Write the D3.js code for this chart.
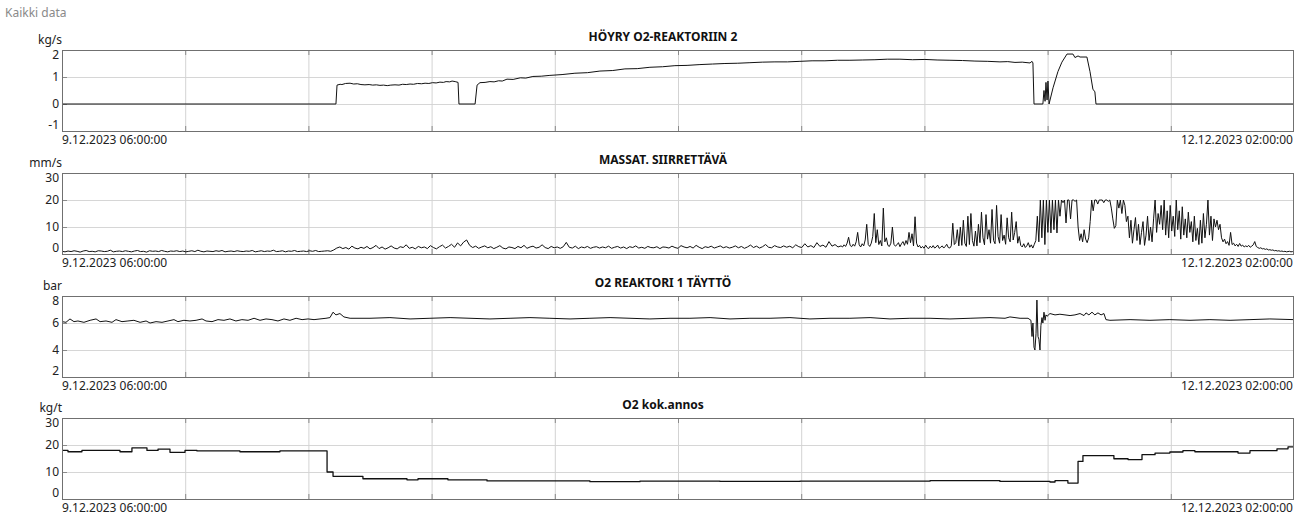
<!DOCTYPE html>
<html>
<head>
<meta charset="utf-8">
<script src="https://cdn.jsdelivr.net/npm/d3@7"></script>
<style>
  html, body { margin: 0; padding: 0; background: #fff; }
  svg { display: block; font-family: "Noto Sans", "Open Sans", sans-serif; }
</style>
</head>
<body>
<svg id="chart" width="1307" height="520"></svg>
<script>
// Time window of the trend view
const startTime = new Date(2023, 11, 9, 6, 0, 0);
const endTime = new Date(2023, 11, 12, 2, 0, 0);
const startLabel = "9.12.2023 06:00:00";
const endLabel = "12.12.2023 02:00:00";
const pageTitle = "Kaikki data";

const panelTitles = ["HÖYRY O2-REAKTORIIN 2", "MASSAT. SIIRRETTÄVÄ", "O2 REAKTORI 1 TÄYTTÖ", "O2 kok.annos"];
const panelUnits = ["kg/s", "mm/s", "bar", "kg/t"];

const steamTicks = [-1, 0, 1, 2];
const vibrationTicks = [0, 10, 20, 30];
const pressureTicks = [2, 4, 6, 8];
const dosageTicks = [0, 10, 20, 30];

// Steam flow to O2 reactor 2: [hours from start, kg/s]
const steamFlow = [
  [0, 0], [15.12, 0], [15.18, 0.70], [15.35, 0.73], [15.45, 0.72], [15.65, 0.76], [15.90, 0.77],
  [16.10, 0.74], [16.30, 0.75], [16.50, 0.72], [16.72, 0.71], [16.95, 0.72], [17.15, 0.70],
  [17.35, 0.71], [17.55, 0.69], [17.75, 0.70], [17.95, 0.68], [18.15, 0.70], [18.38, 0.71],
  [18.60, 0.70], [18.80, 0.73], [19.00, 0.72], [19.21, 0.74], [19.40, 0.73], [19.62, 0.76],
  [19.85, 0.75], [20.04, 0.77], [20.25, 0.76], [20.45, 0.79], [20.65, 0.78], [20.86, 0.81],
  [21.05, 0.80], [21.20, 0.83], [21.40, 0.82], [21.53, 0.85], [21.70, 0.83], [21.86, 0.80],
  [21.91, 0], [22.80, 0], [22.91, 0.70], [23.07, 0.79], [23.35, 0.80], [23.62, 0.83],
  [23.85, 0.82], [24.10, 0.86], [24.30, 0.85], [24.56, 0.92], [24.90, 0.91], [25.30, 0.97],
  [25.60, 0.96], [25.99, 1.02], [26.45, 1.03], [26.93, 1.06], [27.60, 1.09], [28.31, 1.14],
  [29.00, 1.16], [29.69, 1.22], [30.40, 1.24], [31.07, 1.30], [31.75, 1.31], [32.45, 1.36],
  [33.15, 1.38], [33.83, 1.42], [34.50, 1.43], [35.21, 1.46], [35.90, 1.48], [36.59, 1.50],
  [37.30, 1.51], [37.97, 1.53], [38.65, 1.55], [39.35, 1.56], [40.05, 1.56], [40.73, 1.58],
  [41.40, 1.60], [42.11, 1.60], [42.80, 1.62], [43.49, 1.62], [44.20, 1.63], [44.87, 1.64],
  [45.55, 1.66], [46.25, 1.66], [46.95, 1.64], [47.63, 1.65], [48.30, 1.63], [49.01, 1.62],
  [49.70, 1.61], [50.39, 1.59], [51.10, 1.58], [51.77, 1.56], [52.20, 1.57], [52.60, 1.54],
  [53.00, 1.55], [53.43, 1.52], [53.54, 1.58], [53.59, 1.52], [53.65, 0], [54.14, 0],
  [54.20, 0.5], [54.26, 0.1], [54.31, 0.8], [54.37, 0.15], [54.42, 0.85], [54.48, 0],
  [54.70, 0.6], [54.97, 1.2], [55.19, 1.55], [55.47, 1.85], [55.80, 1.85], [55.91, 1.72],
  [56.08, 1.78], [56.19, 1.74], [56.57, 1.74], [56.74, 1.2], [56.90, 0.55], [57.01, 0.45],
  [57.07, 0], [68, 0]
];

// Pulp transfer vibration (mm/s): 10-minute samples up to 43 h, 5-minute samples after that
const vibrationQuietStep = 1 / 6;
const vibrationActiveStart = 43;
const vibrationActiveStep = 1 / 12;
const vibrationQuiet = [
  1.0,0.8,1.1,0.9,1.2,1.0,0.7,1.1,1.3,0.9,1.0,0.8,1.2,1.1,0.9,1.0,1.4,0.8,1.0,1.1,
  0.9,1.2,1.0,0.8,1.1,1.3,0.9,1.0,0.7,1.2,1.0,1.1,0.9,1.3,1.0,0.8,1.1,1.0,1.2,0.9,
  1.1,0.8,1.0,1.2,0.9,1.4,1.0,0.8,1.1,1.0,0.9,1.2,1.0,1.3,0.8,1.0,1.1,0.9,1.2,1.0,
  0.9,1.1,1.0,1.3,0.8,1.0,1.2,0.9,1.1,1.0,1.4,0.9,1.0,1.2,0.8,1.1,1.0,1.3,0.9,1.0,
  1.1,0.9,1.2,1.0,1.3,0.9,1.0,1.1,1.2,1.0,1.5,2.2,2.6,2.0,2.4,1.8,2.9,2.2,1.9,2.5,
  2.1,2.8,1.9,2.4,3.2,2.0,2.6,1.8,2.3,3.0,2.2,1.9,2.7,2.4,3.4,2.1,2.5,1.9,2.8,2.3,
  2.6,2.0,3.1,2.4,1.9,2.7,3.3,2.2,2.8,3.6,2.5,4.1,3.0,4.4,5.2,3.2,2.4,2.9,2.1,2.6,
  3.0,2.3,2.7,2.0,2.5,3.1,2.2,1.9,2.6,2.4,2.0,2.8,2.3,3.2,2.1,2.6,2.9,2.2,2.5,3.4,
  2.4,2.0,2.8,2.3,2.6,2.1,2.7,4.3,2.5,2.2,2.9,2.0,2.6,2.3,2.8,2.1,2.5,2.7,2.2,2.6,
  2.3,2.9,2.1,2.5,2.8,2.2,2.6,2.0,2.7,2.4,3.0,2.2,2.5,2.1,2.8,2.4,2.3,2.7,2.0,2.6,
  2.5,2.2,2.9,2.4,2.1,3.1,2.6,2.3,2.8,2.2,3.2,2.5,2.0,2.7,2.4,2.9,2.2,2.6,3.0,2.3,
  2.7,2.2,2.5,3.0,2.3,2.8,2.1,2.6,3.3,2.4,2.9,2.2,2.7,3.5,2.5,2.3,3.1,2.6,2.4,3.0,
  2.5,2.9,2.3,3.4,2.7,2.4,3.8,2.6,3.1,2.4,4.2,2.8,3.3,2.5,4.6,2.9,3.5,2.6
];
const vibrationActive = [
  3.0,2.6,3.4,2.8,4.0,6.2,3.2,2.7,3.6,2.9,4.5,8.0,3.4,2.6,3.8,3.0,5.2,11.0,3.5,2.8,
  4.0,6.5,15.0,4.2,9.0,3.5,5.0,3.0,17.0,4.5,6.0,3.2,2.8,4.0,10.0,3.6,2.9,3.4,4.2,2.7,
  3.8,4.6,3.2,5.0,3.6,8.0,4.2,7.5,3.0,13.8,4.0,2.6,3.2,2.2,2.8,2.1,3.3,2.4,2.0,2.9,
  2.3,3.1,2.2,2.6,3.3,2.1,2.5,3.0,2.2,2.8,3.6,2.4,2.2,3.0,11.4,3.5,4.2,9.0,3.0,10.0,
  3.2,12.5,4.0,2.8,14.0,3.5,15.0,5.0,2.9,8.5,3.0,11.0,4.2,15.5,6.0,3.4,14.6,5.5,9.0,4.0,
  16.5,5.0,3.8,18.0,6.5,4.0,14.6,5.0,7.0,3.6,13.4,6.0,4.5,15.5,5.2,8.0,12.0,4.0,6.5,3.2,
  2.6,3.8,2.4,3.0,4.2,2.5,3.4,2.2,3.6,5.0,14.0,4.5,20.0,6.0,20.0,3.5,20.0,8.0,20.0,7.8,
  20.0,9.0,20.0,7.8,20.0,14.0,20.0,19.0,20.0,11.5,20.0,20.0,13.0,20.0,20.0,19.5,20.0,10.0,5.0,7.5,
  4.5,9.0,5.5,4.2,6.0,12.0,20.0,16.0,20.0,20.0,18.5,20.0,20.0,20.0,19.0,20.0,20.0,19.5,20.0,17.0,
  13.0,9.5,10.5,20.0,17.0,20.0,15.0,20.0,18.0,12.0,14.0,6.0,12.5,4.0,9.0,13.5,5.0,11.0,3.5,8.0,
  12.0,3.2,7.0,14.0,5.0,10.0,4.5,13.0,20.0,8.0,15.0,11.0,18.0,9.0,20.0,7.0,16.0,6.0,18.0,8.5,
  14.0,6.5,20.0,9.0,16.0,5.5,17.5,7.0,13.0,6.0,15.5,8.0,12.0,4.5,14.0,5.0,9.5,3.5,12.5,4.0,
  15.0,6.0,11.0,20.0,7.0,14.0,5.0,13.0,10.0,12.5,9.0,11.0,6.0,4.5,5.5,3.8,4.6,3.2,8.0,3.5,
  4.0,3.0,3.6,2.8,3.9,2.9,3.3,2.6,3.0,2.7,3.2,2.5,2.9,3.4,4.6,2.8,2.4,2.1,2.3,1.9,
  2.0,1.7,1.9,1.5,1.6,1.4,1.5,1.2,1.3,1.1,1.2,1.0,1.1,0.9,1.0,0.8,0.9,1.0,0.8,0.9,
  0.8
];

// O2 reactor 1 fill pressure: [hours from start, bar]
const pressure = [
  [0, 6.1], [0.22, 6.05], [0.44, 6.3], [0.66, 6.1], [0.88, 6.15], [1.21, 6.05], [1.55, 6.2],
  [1.88, 6.3], [2.10, 6.1], [2.43, 6.15], [2.76, 6.05], [2.98, 6.25], [3.31, 6.1], [3.64, 6.15],
  [3.97, 6.2], [4.31, 6.05], [4.64, 6.15], [4.86, 6.0], [5.19, 6.1], [5.52, 6.05], [5.85, 6.15],
  [6.18, 6.25], [6.40, 6.1], [6.73, 6.2], [7.06, 6.15], [7.40, 6.2], [7.73, 6.3], [7.95, 6.15],
  [8.28, 6.1], [8.61, 6.25], [8.94, 6.2], [9.27, 6.3], [9.60, 6.15], [9.93, 6.25], [10.27, 6.2],
  [10.60, 6.35], [10.93, 6.2], [11.26, 6.3], [11.59, 6.25], [11.92, 6.15], [12.25, 6.3],
  [12.58, 6.2], [12.92, 6.35], [13.25, 6.25], [13.58, 6.3], [13.91, 6.25], [14.24, 6.3],
  [14.57, 6.35], [14.79, 6.4], [14.96, 6.8], [15.12, 6.6], [15.34, 6.7], [15.56, 6.45],
  [15.90, 6.35], [17.00, 6.35], [18.10, 6.4], [19.21, 6.3], [20.31, 6.35], [21.42, 6.4],
  [22.52, 6.35], [23.62, 6.3], [24.73, 6.35], [25.83, 6.4], [26.93, 6.35], [28.04, 6.3],
  [29.14, 6.35], [30.25, 6.4], [31.35, 6.35], [32.45, 6.3], [33.56, 6.35], [34.66, 6.35],
  [35.77, 6.4], [36.87, 6.3], [37.97, 6.35], [39.08, 6.35], [40.18, 6.4], [41.28, 6.3],
  [42.39, 6.35], [43.49, 6.35], [44.60, 6.4], [45.70, 6.3], [46.80, 6.35], [47.91, 6.35],
  [49.01, 6.3], [50.12, 6.35], [51.22, 6.4], [52.05, 6.35], [52.32, 6.45], [52.60, 6.4],
  [52.88, 6.35], [53.32, 6.35], [53.48, 6.2], [53.54, 5.0], [53.59, 6.0], [53.65, 4.2],
  [53.70, 4.0], [53.76, 5.2], [53.81, 7.7], [53.87, 5.0], [53.92, 4.8], [53.98, 4.0],
  [54.03, 5.8], [54.09, 6.4], [54.14, 6.0], [54.20, 6.8], [54.26, 6.2], [54.31, 6.6],
  [54.37, 6.5], [54.53, 6.7], [54.81, 6.6], [55.08, 6.65], [55.36, 6.6], [55.64, 6.55],
  [55.91, 6.6], [56.19, 6.7], [56.41, 6.55], [56.52, 6.75], [56.68, 6.6], [56.85, 6.8],
  [57.01, 6.6], [57.18, 6.75], [57.35, 6.6], [57.51, 6.7], [57.62, 6.25], [57.84, 6.2],
  [58.95, 6.25], [60.05, 6.2], [61.15, 6.25], [62.26, 6.2], [63.36, 6.25], [64.47, 6.2],
  [65.57, 6.25], [66.67, 6.3], [68, 6.25]
];

// O2 total charge, step changes: [hours from start, kg/t]
const dosage = [
  [0, 18.0], [0.33, 17.5], [1.10, 18.0], [3.20, 17.5], [3.86, 18.9], [4.69, 18.0], [5.30, 18.5],
  [5.96, 17.3], [6.79, 18.0], [7.45, 17.8], [9.82, 17.5], [12.03, 17.8], [14.63, 10.0],
  [14.96, 8.4], [16.61, 7.5], [19.04, 7.1], [19.65, 7.5], [21.30, 7.1], [23.46, 6.7],
  [29.14, 6.4], [31.90, 6.6], [36.32, 6.5], [40.73, 6.6], [47.91, 6.8], [51.77, 6.5],
  [54.53, 6.3], [54.81, 6.8], [55.52, 5.9], [56.08, 13.9], [56.35, 16.1], [58.06, 14.9],
  [58.84, 14.6], [59.61, 16.4], [60.33, 17.0], [61.15, 17.4], [61.87, 17.9], [62.53, 17.5],
  [64.91, 17.0], [65.57, 17.9], [67.06, 18.6], [67.67, 19.3], [68, 19.3]
];

const svg = d3.select("#chart");
const plotLeft = 62, plotRight = 1294, plotH = 81;
const panelTops = [50, 173, 296, 418];
const hoursToDate = h => new Date(startTime.getTime() + h * 3600e3);

const x = d3.scaleTime().domain([startTime, endTime]).range([plotLeft, plotRight]);
const span = endTime - startTime;
const gridTimes = d3.range(1, 10).map(k => new Date(startTime.getTime() + k * span / 10));

svg.append("text")
  .attr("x", 5).attr("y", 16.5)
  .attr("font-size", 12).attr("fill", "#8a8a8a")
  .text(pageTitle);

const vibrationSeries = vibrationQuiet.map((v, i) => [i * vibrationQuietStep, v])
  .concat(vibrationActive.map((v, i) => [vibrationActiveStart + i * vibrationActiveStep, v]));

const panels = [
  { domain: [-1, 2], ticks: steamTicks, data: steamFlow, curve: d3.curveLinear, width: 1 },
  { domain: [0, 30], ticks: vibrationTicks, data: vibrationSeries, curve: d3.curveLinear, width: 1 },
  { domain: [2, 8], ticks: pressureTicks, data: pressure, curve: d3.curveLinear, width: 1 },
  { domain: [0, 30], ticks: dosageTicks, data: dosage, curve: d3.curveStepAfter, width: 1.3 }
];

panels.forEach((p, i) => {
  const top = panelTops[i], bottom = top + plotH;
  const y = d3.scaleLinear().domain(p.domain).range([bottom, top]);
  const g = svg.append("g");

  // horizontal grid
  g.append("g")
    .attr("transform", `translate(${plotLeft},0)`)
    .call(d3.axisLeft(y).tickValues(p.ticks).tickSize(-(plotRight - plotLeft)).tickFormat(""))
    .call(a => a.select(".domain").remove())
    .call(a => a.selectAll("line").attr("stroke", "#d6d6d6"));

  // vertical grid
  g.append("g")
    .attr("transform", `translate(0,${bottom})`)
    .call(d3.axisBottom(x).tickValues(gridTimes).tickSize(-plotH).tickFormat(""))
    .call(a => a.select(".domain").remove())
    .call(a => a.selectAll("line").attr("stroke", "#d3d3d3"));

  // short tick marks along the frame
  g.append("g")
    .attr("transform", `translate(${plotLeft},0)`)
    .call(d3.axisRight(y).tickValues(p.ticks).tickSize(5).tickFormat(""))
    .call(a => a.select(".domain").remove())
    .call(a => a.selectAll("line").attr("stroke", "#8a8a8a"));
  g.append("g")
    .attr("transform", `translate(0,${bottom})`)
    .call(d3.axisBottom(x).tickValues(gridTimes).tickSize(-5).tickFormat(""))
    .call(a => a.select(".domain").remove())
    .call(a => a.selectAll("line").attr("stroke", "#8a8a8a"));
  g.append("g")
    .attr("transform", `translate(0,${top})`)
    .call(d3.axisTop(x).tickValues(gridTimes).tickSize(-5).tickFormat(""))
    .call(a => a.select(".domain").remove())
    .call(a => a.selectAll("line").attr("stroke", "#8a8a8a"));

  // data line
  const clipId = "clip" + i;
  g.append("clipPath").attr("id", clipId)
    .append("rect").attr("x", plotLeft).attr("y", top - 1)
    .attr("width", plotRight - plotLeft).attr("height", plotH + 2);
  const line = d3.line()
    .x(d => x(hoursToDate(d[0])))
    .y(d => y(d[1]))
    .curve(p.curve);
  g.append("path")
    .attr("clip-path", `url(#${clipId})`)
    .attr("d", line(p.data))
    .attr("fill", "none")
    .attr("stroke", "#111")
    .attr("stroke-width", p.width)
    .attr("stroke-linejoin", "round");

  // frame
  g.append("rect")
    .attr("x", plotLeft + 0.5).attr("y", top + 0.5)
    .attr("width", plotRight - plotLeft - 1).attr("height", plotH)
    .attr("fill", "none").attr("stroke", "#707070");

  // y tick labels, kept inside the frame height
  g.append("g")
    .attr("transform", `translate(${plotLeft},0)`)
    .call(d3.axisLeft(y).tickValues(p.ticks).tickSize(0).tickPadding(3).tickFormat(d => String(d)))
    .call(a => a.select(".domain").remove())
    .call(a => a.selectAll(".tick")
      .attr("transform", d => `translate(0,${Math.max(top + 5, Math.min(bottom - 6, y(d)))})`))
    .call(a => a.selectAll("text")
      .attr("font-size", 12).attr("font-family", "Noto Sans, Open Sans, sans-serif")
      .attr("fill", "#222").attr("dy", "0.36em"));

  // unit and title
  g.append("text")
    .attr("x", plotLeft).attr("y", top - 6)
    .attr("text-anchor", "end").attr("font-size", 12).attr("fill", "#222")
    .text(panelUnits[i]);
  g.append("text")
    .attr("x", 663).attr("y", top - 9)
    .attr("text-anchor", "middle").attr("font-size", 12).attr("font-weight", "bold").attr("fill", "#111")
    .text(panelTitles[i]);

  // time range labels
  g.append("text")
    .attr("x", plotLeft).attr("y", bottom + 13)
    .attr("font-size", 12).attr("fill", "#222")
    .text(startLabel);
  g.append("text")
    .attr("x", plotRight - 1).attr("y", bottom + 13)
    .attr("text-anchor", "end").attr("font-size", 12).attr("fill", "#222")
    .text(endLabel);
});
</script>
</body>
</html>
